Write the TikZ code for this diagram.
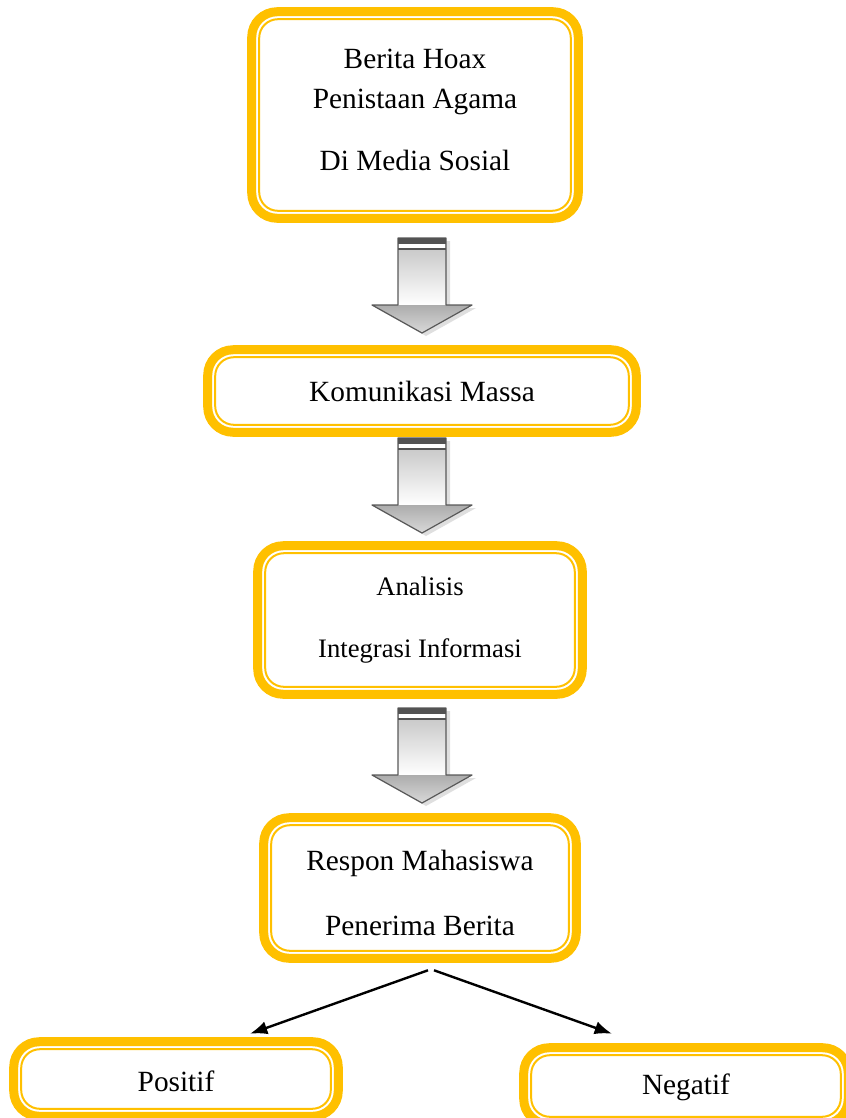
\documentclass[tikz,border=0pt]{standalone}
\usepackage{fontspec}
\setmainfont{Liberation Serif}
\usetikzlibrary{arrows.meta,calc}
\definecolor{gold}{RGB}{255,192,0}
\definecolor{ink}{RGB}{0,0,0}
\tikzset{
  >={Latex[length=13pt,width=10pt]},
  frame box/.style={inner sep=0pt,align=center,font=\fontsize{22pt}{30pt}\selectfont},
  flow/.style={->,line width=1.8pt,draw=ink},
  % pictogram of the grey block arrow
  pics/blockarrow/.style={code={
    \fill[gray!25] (-20,3) -- (28,3) -- (28,70) -- (54,70) -- (4,98) -- (-46,70) -- (-20,70) -- cycle;
    \shade[top color=gray!50,bottom color=white] (-24,0) rectangle (24,67);
    \shade[top color=gray!65,bottom color=gray!30] (-50,67) -- (50,67) -- (0,95) -- cycle;
    \draw[gray!70!black,line width=0.9pt,line join=round] (-24,0) -- (24,0) -- (24,67) -- (50,67) -- (0,95) -- (-50,67) -- (-24,67) -- cycle;
    \fill[gray!65!black] (-24,0) rectangle (24,6);
    \fill[white] (-23,6) rectangle (23,9.5);
    \fill[gray!65!black] (-24,9.5) rectangle (24,12);
  }},
}
\begin{document}
\begin{tikzpicture}[x=0.75pt,y=-0.75pt]
  \useasboundingbox (0,0) rectangle (846,1118);
  % boxes
  \node[frame box,minimum width=244.5pt,minimum height=154.5pt] (hoax) at (415,115)
    {Berita Hoax\\Penistaan Agama\\[17pt]Di Media Sosial\rule[-8pt]{0pt}{8pt}};
  \node[frame box,minimum width=321pt,minimum height=61.5pt] (komunikasi) at (422,391) {Komunikasi Massa};
  \node[frame box,minimum width=243pt,minimum height=111pt,font=\fontsize{20pt}{24pt}\selectfont] (analisis) at (420,620)
    {Analisis\\[23pt]Integrasi Informasi};
  \node[frame box,minimum width=234pt,minimum height=105pt] (respon) at (420,888)
    {\rule{0pt}{22.5pt}Respon Mahasiswa\\[19pt]Penerima Berita};
  \node[frame box,minimum width=243pt,minimum height=55.5pt] (positif) at (176,1079) {\rule{0pt}{19.5pt}Positif};
  \node[frame box,minimum width=243pt,minimum height=57pt] (negatif) at (686,1086) {\rule{0pt}{17.5pt}Negatif};
  % double gold frames
  \foreach \n in {hoax,komunikasi,analisis,respon,positif,negatif}{
    \draw[gold,line width=6.75pt,rounded corners=19pt] (\n.south west) rectangle (\n.north east);
    \draw[gold,line width=1.5pt,rounded corners=14pt] ($(\n.south west)+(5.6pt,5.6pt)$) rectangle ($(\n.north east)-(5.6pt,5.6pt)$);
  }
  % block arrows
  \pic at (422,238) {blockarrow};
  \pic at (422,438) {blockarrow};
  \pic at (422,708) {blockarrow};
  % split to the two outcomes
  \draw[flow] ([shift={(8,12)}]respon.south) -- ([shift={(74,-8)}]positif.north);
  \draw[flow] ([shift={(14,12)}]respon.south) -- ([shift={(-74,-14)}]negatif.north);
\end{tikzpicture}
\end{document}
